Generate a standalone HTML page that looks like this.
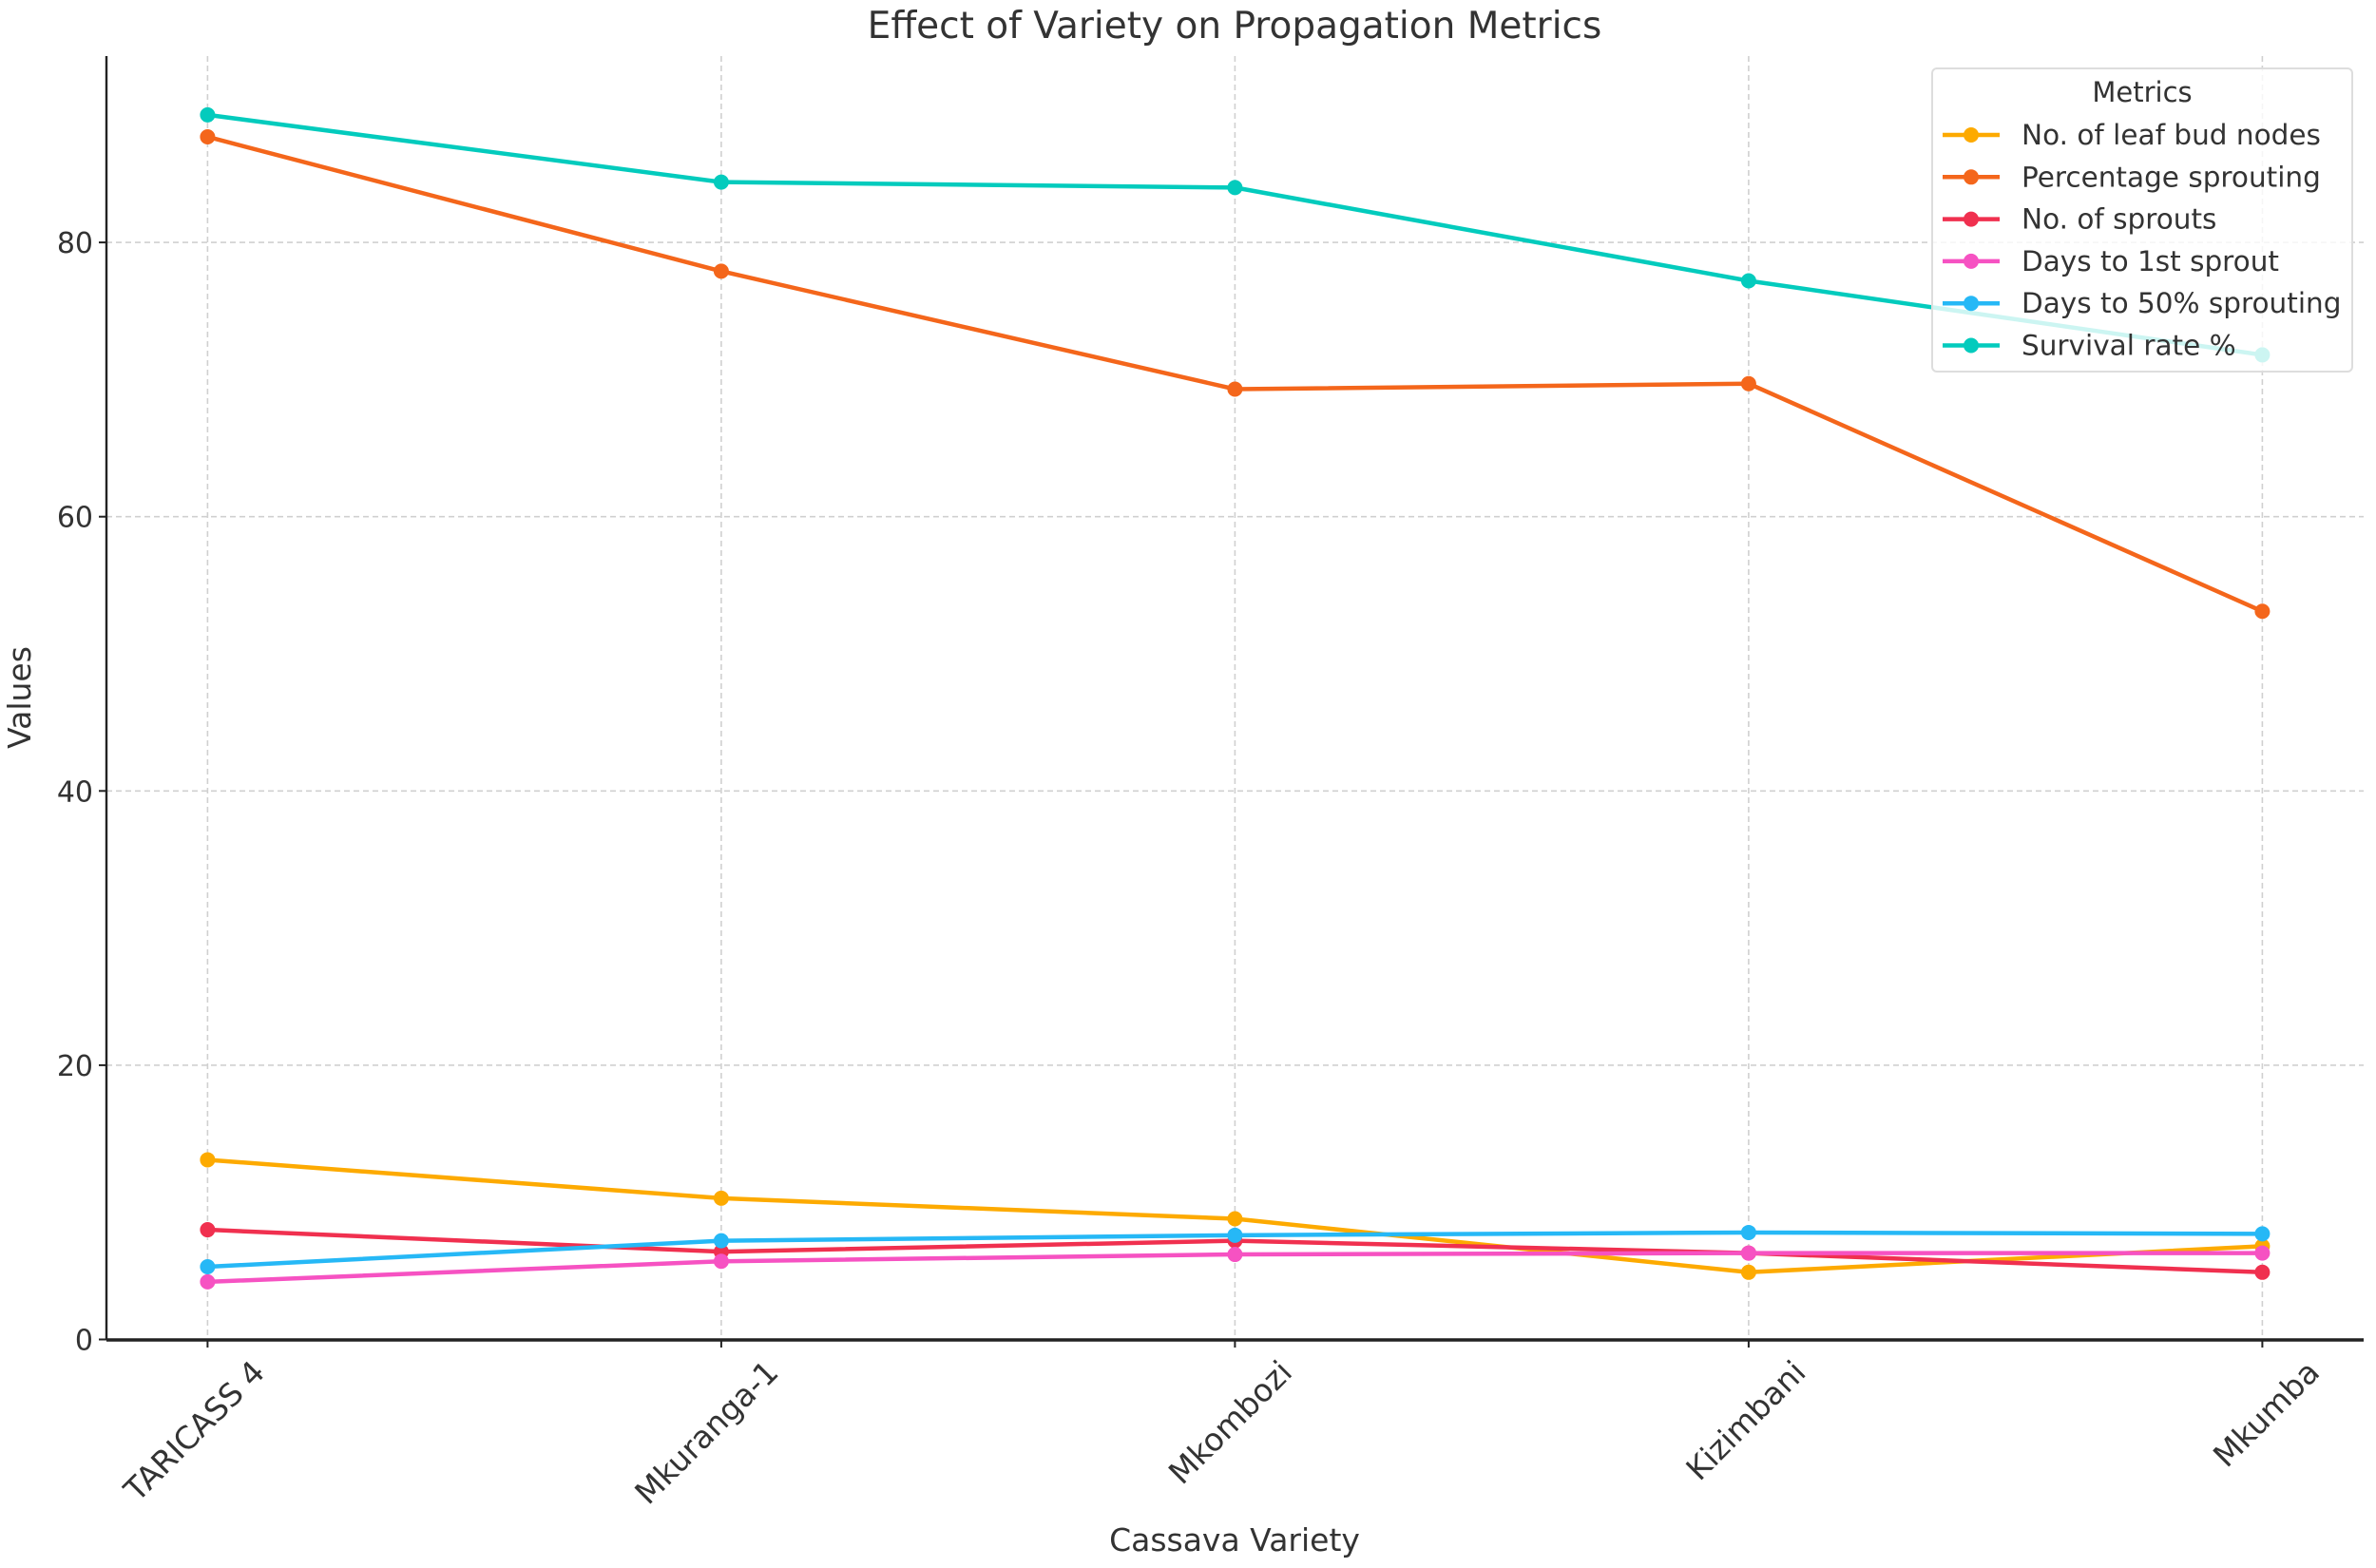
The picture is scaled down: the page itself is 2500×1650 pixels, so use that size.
<!DOCTYPE html>
<html><head><meta charset="utf-8"><style>
html,body{margin:0;padding:0;background:#fff}
svg{display:block;font-family:"DejaVu Sans","Liberation Sans",sans-serif}
</style></head><body>
<svg id="chart" width="2500" height="1650" viewBox="0 0 2500 1650" xmlns="http://www.w3.org/2000/svg">
<text x="1299" y="40" font-size="39" fill="#333" text-anchor="middle">Effect of Variety on Propagation Metrics</text>
<g id="grid"></g>
<g id="yaxis"></g>
<g id="xaxis"></g>
<g id="series"></g>
<text transform="translate(32,734) rotate(-90)" font-size="33" fill="#333" text-anchor="middle">Values</text>
<text x="1299" y="1632" font-size="33" fill="#333" text-anchor="middle">Cassava Variety</text>
<g id="legend"></g>
</svg>
<script>
const categories = ["TARICASS 4","Mkuranga-1","Mkombozi","Kizimbani","Mkumba"];
const seriesNames = ["No. of leaf bud nodes","Percentage sprouting","No. of sprouts","Days to 1st sprout","Days to 50% sprouting","Survival rate %"];
const leafBudNodes = [13.1,10.3,8.8,4.9,6.8];
const percentageSprouting = [87.7,77.9,69.3,69.7,53.1];
const noOfSprouts = [8.0,6.4,7.2,6.3,4.9];
const daysTo1stSprout = [4.2,5.7,6.2,6.3,6.3];
const daysTo50Sprouting = [5.3,7.2,7.6,7.8,7.7];
const survivalRate = [89.3,84.4,84.0,77.2,71.8];
const yTicks = [0,20,40,60,80];
const seriesColors = ["#fdaa00","#f4661b","#f0304f","#f652c2","#26b8f6","#03cbbd"];
const seriesData = [leafBudNodes,percentageSprouting,noOfSprouts,daysTo1stSprout,daysTo50Sprouting,survivalRate];

const NS="http://www.w3.org/2000/svg";
const L=112,R=2487,T=59,B=1410;
const y0=1409.5, pxPerUnit=14.43;
const yS=v=>y0-v*pxPerUnit;
const xS=i=>218.4+i*540.5;
function mk(tag,attrs,parent){const e=document.createElementNS(NS,tag);for(const k in attrs)e.setAttribute(k,attrs[k]);parent.appendChild(e);return e;}
const grid=document.getElementById('grid'),yax=document.getElementById('yaxis'),xax=document.getElementById('xaxis'),ser=document.getElementById('series'),leg=document.getElementById('legend');

yTicks.forEach(t=>{
  const y=yS(t);
  if(t>0){const g=mk('line',{x1:L,x2:R,y1:y,y2:y,stroke:'#d0d0d0','stroke-width':1.6,'stroke-dasharray':'6,4'},grid);
  
  }
  const tk=mk('line',{x1:L-8,x2:L,y1:y,y2:y,stroke:'#222','stroke-width':2},yax);
  
  
  const tx=mk('text',{x:L-14,y:y+11,'font-size':30,fill:'#333','text-anchor':'end'},yax);
  tx.textContent=t;
  
  
});
categories.forEach((c,i)=>{
  const x=xS(i);
  const g=mk('line',{x1:x,x2:x,y1:T,y2:B,stroke:'#d0d0d0','stroke-width':1.6,'stroke-dasharray':'6,4'},grid);
  
  
  const tk=mk('line',{x1:x,x2:x,y1:B,y2:B+8,stroke:'#222','stroke-width':2},xax);
  
  
  const tx=mk('text',{transform:`translate(${x+62},${B+36}) rotate(-45)`,'font-size':33,fill:'#333','text-anchor':'end'},xax);
  tx.textContent=c;
  
  
});
const sl=mk('line',{x1:L,x2:L,y1:T,y2:B,stroke:'#222','stroke-width':2.4},yax);


const sb=mk('line',{x1:L,x2:R,y1:B,y2:B,stroke:'#222','stroke-width':3.5},xax);



seriesData.forEach((d,s)=>{
  const g=mk('g',{},ser);
  
  
  const pts=d.map((v,i)=>xS(i)+','+yS(v)).join(' ');
  const pl=mk('polyline',{points:pts,fill:'none',stroke:seriesColors[s],'stroke-width':4.5,'stroke-linejoin':'round'},g);
  
  
  d.forEach((v,i)=>{
    const c=mk('circle',{cx:xS(i),cy:yS(v),r:8,fill:seriesColors[s]},g);
    
    
  });
});

const box=mk('rect',{x:2033,y:72,width:442,height:319,rx:5,fill:'#fff','fill-opacity':0.8,stroke:'#ddd','stroke-width':2},leg);


const lt=mk('text',{x:2254,y:107,'font-size':29,fill:'#333','text-anchor':'middle'},leg);
lt.textContent='Metrics';


seriesNames.forEach((n,i)=>{
  const y=142+i*44.3;
  const g=mk('g',{},leg);
  
  
  mk('line',{x1:2044,x2:2104,y1:y,y2:y,stroke:seriesColors[i],'stroke-width':4.5},g);
  mk('circle',{cx:2074,cy:y,r:8,fill:seriesColors[i]},g);
  const t=mk('text',{x:2127,y:y+10,'font-size':29.5,fill:'#333'},g);
  t.textContent=n;
});
</script>
</body></html>
